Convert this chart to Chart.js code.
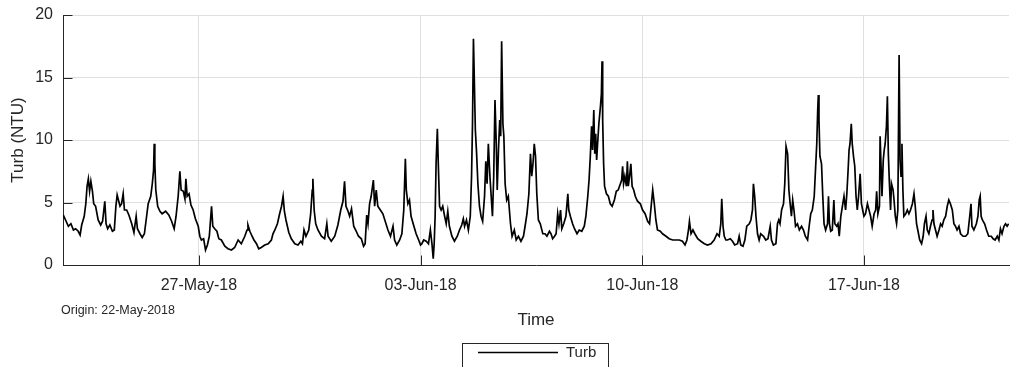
<!DOCTYPE html>
<html>
<head>
<meta charset="utf-8">
<script src="https://cdn.jsdelivr.net/npm/chart.js@4.4.0/dist/chart.umd.min.js"></script>
<style>
  html, body { margin: 0; padding: 0; background: #fff; }
  #wrap { width: 1010px; height: 367px; }
</style>
</head>
<body>
<div id="wrap"><canvas id="turbChart" width="1010" height="367"></canvas></div>
<script>
// time axis is in days counted from the origin date
const originLabel = "Origin: 22-May-2018";
const tickDays = [5, 12, 19, 26];
const tickLabels = ["27-May-18", "03-Jun-18", "10-Jun-18", "17-Jun-18"];
const yTicks = [0, 5, 10, 15, 20];

const days = [
  0.72,0.79,0.88,0.96,1.04,1.11,1.19,1.25,1.30,1.38,1.43,1.47,1.51,1.55,1.59,1.64,1.68,1.74,1.82,1.90,1.96,2.03,2.07,2.12,2.19,2.27,2.33,2.38,2.42,2.47,2.51,2.56,2.61,2.65,2.72,2.79,2.88,2.95,3.02,3.06,3.14,3.21,3.28,3.35,3.40,3.48,3.53,3.57,3.59,3.61,3.64,3.70,3.77,3.84,3.95,4.05,4.14,4.22,4.28,4.35,4.40,4.44,4.51,4.56,4.59,4.63,4.69,4.75,4.82,4.89,4.98,5.03,5.08,5.15,5.21,5.27,5.33,5.40,5.44,5.50,5.57,5.63,5.71,
  5.82,5.92,6.03,6.13,6.24,6.34,6.45,6.52,6.55,6.61,6.68,6.74,6.82,6.89,6.97,7.08,7.19,7.29,7.34,7.40,7.48,7.55,7.61,7.66,7.70,7.75,7.84,7.92,8.03,8.13,8.22,8.27,8.32,8.38,8.47,8.53,8.58,8.60,8.64,8.69,8.76,8.87,8.97,9.04,9.08,9.18,9.29,9.39,9.48,9.55,9.60,9.645,9.71,9.76,9.82,9.89,9.97,10.04,10.13,10.20,10.25,10.30,10.34,10.39,10.44,10.51,10.55,10.60,10.65,10.73,10.81,
  10.97,11.05,11.13,11.18,11.25,11.34,11.41,11.47,11.52,11.55,11.60,11.65,11.70,11.79,11.86,11.94,12.00,12.04,12.10,12.18,12.25,12.31,12.36,12.40,12.43,12.46,12.49,12.53,12.56,12.60,12.65,12.70,12.76,12.81,12.86,12.91,12.99,13.07,13.16,13.23,13.30,13.35,13.39,13.45,13.51,13.57,13.61,13.64,13.67,13.70,13.73,13.77,13.81,13.86,13.91,13.96,14.02,14.06,14.10,14.14,14.19,14.23,14.27,14.31,14.35,14.39,14.42,14.46,14.50,14.53,14.56,14.60,14.63,14.67,14.72,14.77,14.84,14.89,14.96,15.02,15.09,15.17,15.25,15.30,15.36,15.42,15.47,15.51,15.55,15.59,15.63,15.67,15.72,15.78,15.86,
  15.93,15.99,16.07,16.12,16.17,16.23,16.28,16.33,16.37,16.42,16.46,16.52,16.59,16.65,16.68,16.73,16.80,16.86,16.94,17.01,17.09,17.17,17.22,17.28,17.32,17.36,17.40,17.43,17.47,17.50,17.53,17.56,17.59,17.63,17.68,17.71,17.73,17.75,17.78,17.81,17.87,17.93,17.99,18.05,18.12,18.18,18.24,18.31,18.35,18.38,18.41,18.45,18.50,18.53,18.56,18.60,18.64,18.68,18.73,18.78,18.85,18.94,19.01,19.09,19.17,19.23,19.27,19.33,19.38,19.43,19.48,19.57,19.64,19.75,19.85,19.96,20.06,20.17,20.27,20.35,20.41,20.46,20.49,20.54,20.60,20.66,20.75,20.85,
  20.96,21.06,21.17,21.27,21.36,21.43,21.48,21.51,21.55,21.59,21.64,21.69,21.78,21.85,21.92,22.01,22.06,22.11,22.18,22.24,22.30,22.38,22.43,22.48,22.51,22.55,22.59,22.64,22.69,22.74,22.83,22.90,22.97,23.04,23.08,23.14,23.22,23.27,23.31,23.35,23.40,23.46,23.50,23.54,23.59,23.63,23.67,23.71,23.75,23.79,23.84,23.90,23.96,24.03,24.09,24.15,24.22,24.27,24.32,24.37,24.43,24.47,24.51,24.54,24.56,24.58,24.61,24.66,24.70,24.74,24.79,24.85,24.88,24.91,24.95,25.00,25.05,25.08,25.14,25.18,25.22,25.27,25.32,25.37,25.42,25.46,25.50,25.53,25.56,25.60,25.63,25.67,25.71,25.75,25.79,25.83,25.88,25.92,25.96,
  26.00,26.05,26.11,26.16,26.21,26.26,26.32,26.37,26.40,26.44,26.49,26.51,26.54,26.57,26.61,26.64,26.67,26.71,26.74,26.77,26.80,26.84,26.87,26.92,26.95,26.99,27.03,27.07,27.11,27.14,27.17,27.20,27.23,27.26,27.32,27.37,27.42,27.47,27.53,27.58,27.62,27.66,27.70,27.76,27.82,27.87,27.91,27.96,28.00,28.05,28.10,28.15,28.18,28.21,28.26,28.31,28.37,28.42,28.47,28.52,28.58,28.63,28.68,28.73,28.79,28.84,28.89,28.94,29.00,29.05,29.13,29.21,29.28,29.34,29.38,29.41,29.47,29.55,29.60,29.64,29.67,29.70,29.74,29.81,29.87,29.94,30.02,30.08,30.14,30.21,30.26,30.31,30.36,30.42,30.47,30.52,30.57
];

const turb = [
  4.0,3.6,3.1,3.3,2.8,2.9,2.7,2.4,3.2,3.9,4.9,6.3,6.9,5.9,6.7,5.9,4.9,4.7,3.6,3.2,3.5,5.1,3.3,2.9,3.2,2.7,2.8,4.7,5.6,5.1,4.7,4.9,5.7,4.4,4.4,4.0,3.3,2.6,3.9,2.9,2.5,2.2,2.5,3.9,4.9,5.5,6.5,7.6,9.7,8.1,6.0,4.7,4.3,4.1,4.3,4.0,3.5,2.9,3.9,5.6,7.5,6.0,5.9,5.3,6.9,5.5,5.7,4.8,4.4,3.7,3.1,2.3,2.0,2.1,1.2,1.6,2.3,4.7,3.1,2.9,2.7,2.1,2.0,
  1.5,1.3,1.2,1.4,2.0,1.7,2.3,2.8,3.2,2.7,2.3,2.0,1.7,1.3,1.4,1.6,1.7,2.0,2.5,2.8,3.3,4.1,4.7,5.5,4.3,3.6,2.6,2.1,1.7,1.6,1.9,1.7,2.8,2.3,2.8,4.1,6.0,6.9,4.4,3.3,2.8,2.3,2.1,3.3,2.3,1.9,2.3,3.2,4.4,5.1,6.7,4.7,4.3,3.9,4.5,3.1,2.7,2.3,2.1,1.5,1.7,4.0,3.3,4.9,5.5,6.8,4.7,6.0,4.7,4.4,4.1,
  2.8,2.3,3.1,2.0,1.6,2.0,2.5,4.4,8.5,6.0,4.9,5.2,3.9,3.1,2.5,2.0,1.6,1.7,2.0,1.9,1.7,2.8,1.7,0.5,1.7,3.9,8.1,10.9,8.1,4.7,4.4,4.7,3.9,3.3,4.3,3.1,2.3,1.9,2.3,2.8,3.2,3.7,3.1,3.6,2.8,3.9,7.1,11.3,18.1,14.5,10.8,8.9,6.5,4.7,3.9,3.5,5.5,8.3,6.5,9.7,7.1,5.5,3.9,7.1,13.2,9.7,6.0,9.2,11.6,10.3,17.9,11.3,10.3,6.5,5.2,5.5,3.3,2.3,2.8,2.0,2.3,1.9,2.3,3.1,4.1,5.7,8.9,7.1,8.1,9.7,8.7,5.7,3.6,3.3,2.5,
  2.5,2.3,2.7,2.5,2.1,2.3,2.5,4.1,3.3,4.4,2.9,3.3,3.9,5.7,4.4,3.9,3.3,2.9,2.5,2.8,2.7,3.1,3.9,5.5,6.8,8.7,11.1,9.2,12.4,8.9,10.5,8.4,9.7,11.3,12.7,13.7,16.3,11.6,8.1,6.3,5.7,5.5,4.9,4.7,5.2,5.9,6.0,6.5,6.8,7.9,6.5,7.1,6.3,8.3,6.3,7.1,8.1,6.3,6.0,5.5,5.1,4.9,4.4,4.1,3.5,3.3,4.4,6.0,4.9,3.6,2.8,2.7,2.5,2.3,2.1,2.0,2.0,2.0,1.9,1.6,2.0,2.8,3.5,2.5,2.8,2.5,2.1,1.9,
  1.7,1.6,1.7,2.0,2.5,2.3,3.3,5.3,3.1,2.3,2.0,2.0,2.1,1.9,1.6,1.7,2.3,1.6,1.5,2.0,3.1,3.3,3.6,4.4,6.5,5.5,3.9,2.5,2.0,2.5,2.3,2.0,2.1,3.1,2.0,1.6,1.7,3.3,3.6,3.3,4.4,4.9,6.5,9.5,8.9,6.0,4.9,3.9,5.2,4.4,3.1,3.3,2.8,3.1,2.8,2.3,2.0,3.1,4.1,4.4,5.5,7.6,9.7,12.4,13.6,11.6,8.7,8.1,5.5,3.3,2.8,3.3,5.5,3.3,2.7,2.8,5.2,3.3,3.1,3.3,2.3,3.9,4.7,5.5,4.4,5.7,7.6,9.2,9.7,11.3,9.7,8.7,7.9,5.5,4.4,5.5,7.3,4.9,4.4,
  3.9,4.1,4.9,4.4,3.9,3.1,4.1,4.4,5.9,4.1,4.7,10.3,7.9,5.5,8.4,9.2,9.7,11.1,13.5,8.9,6.8,4.4,6.5,6.0,5.2,3.9,3.3,4.4,16.8,8.4,7.1,9.7,6.0,3.9,4.1,4.4,4.1,4.4,4.9,5.7,4.7,3.3,2.8,2.0,1.7,2.3,3.3,3.9,2.8,2.5,3.1,3.6,4.4,3.3,2.8,2.3,2.8,3.3,3.1,3.6,3.9,4.7,5.2,4.9,4.4,3.3,3.1,2.8,3.1,2.5,2.3,2.3,2.5,3.9,4.9,3.1,2.8,3.3,3.9,5.2,5.5,3.9,3.6,3.3,2.8,2.3,2.3,2.1,2.0,2.3,2.0,2.9,2.5,3.1,3.3,3.1,3.3
];

const axisColor = "#262626";
const gridColor = "#dfdfdf";
const fontFamily = "'Liberation Sans', Arial, Helvetica, sans-serif";

Chart.defaults.font.family = fontFamily;
Chart.defaults.color = axisColor;

const points = days.map((d, i) => ({ x: d, y: turb[i] }));

// MATLAB style bits: inward tick marks, origin note and boxed legend
const matlabBits = {
  id: "matlabBits",
  afterDraw(chart) {
    const ctx = chart.ctx;
    const area = chart.chartArea;
    const xs = chart.scales.x;
    const ys = chart.scales.y;
    const tickLen = 9.5;

    ctx.save();
    ctx.strokeStyle = axisColor;
    ctx.lineWidth = 1;
    ctx.beginPath();
    yTicks.forEach(v => {
      const py = Math.round(ys.getPixelForValue(v)) + 0.5;
      ctx.moveTo(area.left, py);
      ctx.lineTo(area.left + tickLen, py);
    });
    tickDays.forEach(v => {
      const px = Math.round(xs.getPixelForValue(v)) + 0.5;
      ctx.moveTo(px, area.bottom);
      ctx.lineTo(px, area.bottom - tickLen);
    });
    ctx.stroke();

    // origin date under the first tick label
    ctx.fillStyle = axisColor;
    ctx.font = "12.5px " + fontFamily;
    ctx.textAlign = "left";
    ctx.textBaseline = "alphabetic";
    ctx.fillText(originLabel, 61, 314);

    // legend box
    const ds = chart.data.datasets[0];
    const bx = 462.5, by = 343.5, bw = 146, bh = 30;
    ctx.fillStyle = "#fff";
    ctx.fillRect(bx, by, bw, bh);
    ctx.strokeStyle = axisColor;
    ctx.lineWidth = 1;
    ctx.strokeRect(bx, by, bw, bh);
    ctx.strokeStyle = ds.borderColor;
    ctx.lineWidth = 1.3;
    ctx.beginPath();
    ctx.moveTo(478, 352.5);
    ctx.lineTo(558, 352.5);
    ctx.stroke();
    ctx.fillStyle = axisColor;
    ctx.font = "15px " + fontFamily;
    ctx.fillText(ds.label, 566, 357);
    ctx.restore();
  }
};

new Chart(document.getElementById("turbChart"), {
  type: "line",
  data: {
    datasets: [
      {
        label: "Turb",
        data: points,
        borderColor: "#000",
        borderWidth: 1.7,
        pointRadius: 0,
        tension: 0,
        fill: false
      }
    ]
  },
  options: {
    responsive: false,
    animation: false,
    devicePixelRatio: 1,
    layout: { padding: { left: 0, top: 15, right: 1, bottom: 35 } },
    plugins: {
      legend: { display: false },
      tooltip: { enabled: false }
    },
    scales: {
      x: {
        type: "linear",
        min: 0.71,
        max: 30.58,
        afterBuildTicks: scale => {
          scale.ticks = tickDays.map(v => ({ value: v }));
        },
        afterFit: scale => {
          scale.height = 67;
        },
        ticks: {
          autoSkip: false,
          maxRotation: 0,
          padding: 11,
          color: axisColor,
          font: { size: 16 },
          callback: value => tickLabels[tickDays.indexOf(value)]
        },
        grid: { color: gridColor, drawTicks: false },
        border: { display: true, color: axisColor, width: 1 },
        title: {
          display: true,
          text: "Time",
          color: axisColor,
          font: { size: 17 },
          padding: { top: 0, bottom: 1 }
        }
      },
      y: {
        min: 0,
        max: 20,
        afterBuildTicks: scale => {
          scale.ticks = yTicks.map(v => ({ value: v }));
        },
        afterFit: scale => {
          // keep the label overhang from pushing the plot top down
          scale.width = 63;
          scale.paddingTop = 4;
          scale.paddingBottom = 4;
        },
        ticks: {
          padding: 10,
          color: axisColor,
          font: { size: 16 }
        },
        grid: { color: gridColor, drawTicks: false },
        border: { display: true, color: axisColor, width: 1 },
        title: {
          display: true,
          text: "Turb (NTU)",
          color: axisColor,
          font: { size: 17 },
          padding: { top: 8, bottom: 0 }
        }
      }
    }
  },
  plugins: [matlabBits]
});
</script>
</body>
</html>
